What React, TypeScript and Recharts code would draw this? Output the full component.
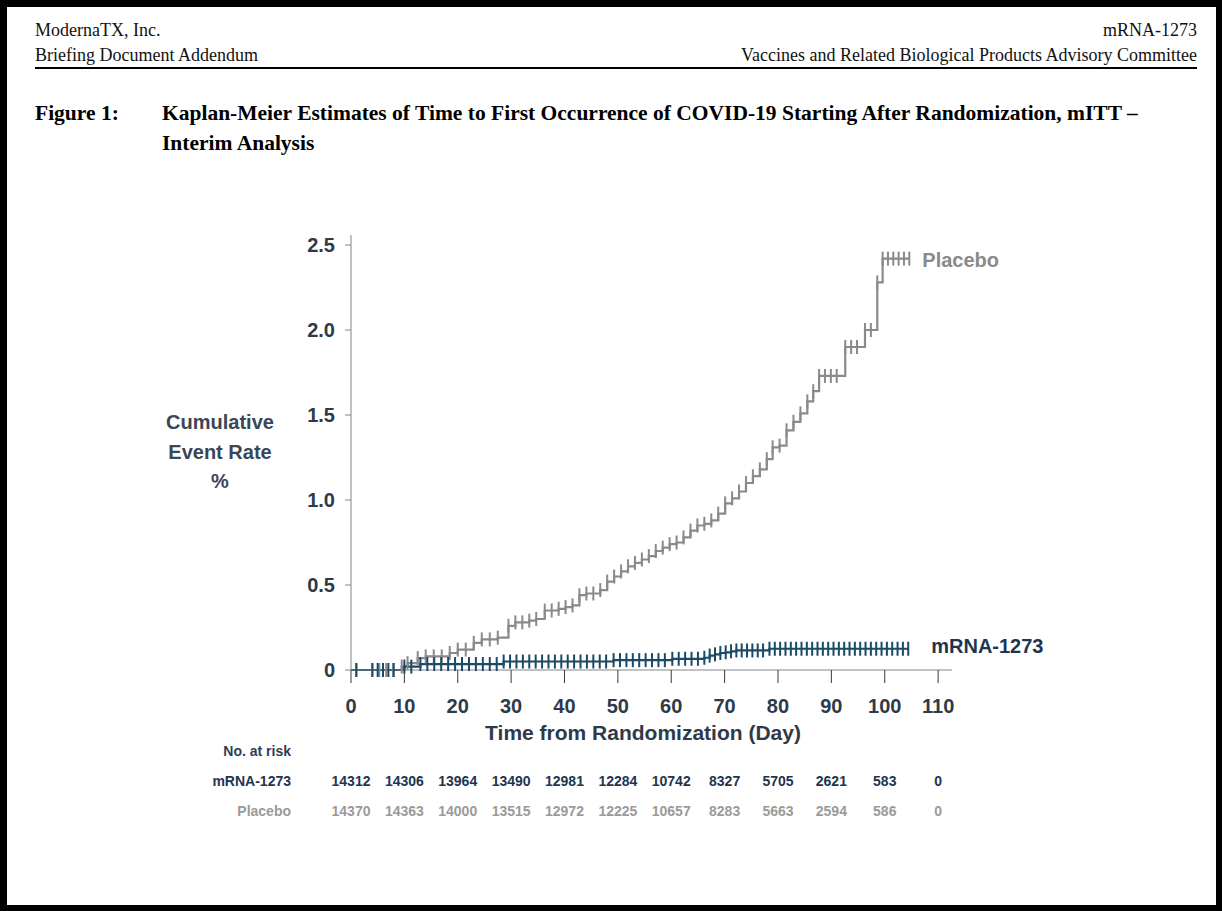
import React from 'react'
import { LineChart, Line, XAxis, YAxis } from 'recharts'

// Kaplan-Meier step points [day, cumulative event rate %]; every point after the first carries a censor mark
const placeboCurve: [number, number][] = [
  [0, 0], [1, 0], [4, 0], [5.3, 0], [6.6, 0], [7.9, 0],
  [9.5, 0.02], [10.6, 0.04], [12.5, 0.07], [14, 0.08], [15.5, 0.08], [17, 0.08], [18.5, 0.1], [20, 0.12], [21.5, 0.12], [23, 0.16],
  [24.5, 0.18], [26, 0.18], [27.5, 0.19], [29.5, 0.26], [30.8, 0.28], [32.1, 0.28], [33.4, 0.29], [34.7, 0.3], [36.3, 0.35], [37.6, 0.35],
  [38.9, 0.36], [40.2, 0.37], [41.5, 0.38], [42.8, 0.44], [44.1, 0.45], [45.4, 0.45], [46.7, 0.47], [48, 0.52], [49.3, 0.55], [50.6, 0.58],
  [51.9, 0.61], [53.2, 0.63], [54.5, 0.65], [55.8, 0.67], [57.1, 0.7], [58.4, 0.72], [59.7, 0.74], [61, 0.75], [62.3, 0.78], [63.6, 0.82],
  [64.9, 0.85], [66.2, 0.86], [67.5, 0.88], [68.8, 0.92], [70.1, 0.98], [71.4, 1.01], [72.7, 1.05], [74, 1.1], [75.3, 1.14], [76.6, 1.18],
  [77.9, 1.24], [79, 1.31], [80.3, 1.32], [81.6, 1.41], [82.9, 1.46], [84.2, 1.51], [85.5, 1.58], [86.6, 1.64], [87.7, 1.73], [88.8, 1.73],
  [89.9, 1.73], [91, 1.73], [92.6, 1.9], [93.7, 1.9], [94.8, 1.9], [96.3, 2.0], [97.4, 2.0], [98.6, 2.28], [99.6, 2.42], [100.6, 2.42],
  [101.6, 2.42], [102.6, 2.42], [103.6, 2.42], [104.6, 2.42],
]

const mrnaCurve: [number, number][] = [
  [0, 0], [1, 0], [4, 0], [5, 0], [6, 0], [7, 0], [8, 0],
  [10, 0.02], [11.3, 0.02], [13, 0.035], [14.3, 0.035], [15.6, 0.035], [16.9, 0.035], [18.2, 0.035], [19.5, 0.035], [20.8, 0.035],
  [22.1, 0.035], [23.4, 0.035], [24.7, 0.035], [26, 0.035], [27.3, 0.035],
  [28.6, 0.05], [29.8, 0.05], [31, 0.05], [32.2, 0.05], [33.4, 0.05], [34.6, 0.05], [35.8, 0.05], [37, 0.05], [38.2, 0.05], [39.4, 0.05],
  [40.6, 0.05], [41.8, 0.05], [43, 0.05], [44.2, 0.05], [45.4, 0.05], [46.6, 0.05], [47.8, 0.05],
  [49.2, 0.058], [50.4, 0.058], [51.6, 0.058], [52.8, 0.058], [54, 0.058], [55.2, 0.058], [56.4, 0.058], [57.6, 0.058], [58.8, 0.058],
  [60.2, 0.066], [61.4, 0.066], [62.6, 0.066], [63.8, 0.066], [65, 0.066],
  [66.2, 0.072], [67.2, 0.085], [68.2, 0.092], [69.2, 0.1], [70.2, 0.104], [71.2, 0.11], [72.2, 0.115], [73.2, 0.115], [74.2, 0.115],
  [75.2, 0.115], [76.2, 0.115], [77.2, 0.115],
  [78.4, 0.125], [79.4, 0.125], [80.4, 0.125], [81.4, 0.125], [82.4, 0.125], [83.4, 0.125], [84.4, 0.125], [85.4, 0.125], [86.4, 0.125],
  [87.4, 0.125], [88.4, 0.125], [89.4, 0.125], [90.4, 0.125], [91.4, 0.125], [92.4, 0.125], [93.4, 0.125], [94.4, 0.125], [95.4, 0.125],
  [96.4, 0.125], [97.4, 0.125], [98.4, 0.125], [99.4, 0.125], [100.4, 0.125], [101.4, 0.125], [102.4, 0.125], [103.4, 0.125], [104.4, 0.125],
]

const xTicks = [0, 10, 20, 30, 40, 50, 60, 70, 80, 90, 100, 110]
const yTicks = [0, 0.5, 1.0, 1.5, 2.0, 2.5]
const atRiskMrna = [14312, 14306, 13964, 13490, 12981, 12284, 10742, 8327, 5705, 2621, 583, 0]
const atRiskPlacebo = [14370, 14363, 14000, 13515, 12972, 12225, 10657, 8283, 5663, 2594, 586, 0]

const placeboData = placeboCurve.map(([day, rate]) => ({ day, rate }))
const mrnaData = mrnaCurve.map(([day, rate]) => ({ day, rate }))

const SANS = "'Liberation Sans', Arial, sans-serif"
const SERIF = "'Liberation Serif', 'Times New Roman', serif"
const INK = '#2e3a48'
const PLACEBO = '#8a8a8a'
const MRNA = '#1b4a66'
const MRNA_TEXT = '#1e3552'

const censorDot = (color: string, name: string, nameColor: string, dx: number, dy: number, lastIndex: number) =>
  (props: any) => {
    const { cx, cy, index } = props
    if (index === 0 || cx == null) return <g key={`d${index}`} />
    return (
      <g key={`d${index}`}>
        <line x1={cx} x2={cx} y1={cy - 7} y2={cy + 7} stroke={color} strokeWidth={2} />
        {index === lastIndex && (
          <text x={cx + dx} y={cy + dy} dominantBaseline="central" fill={nameColor}
            fontFamily={SANS} fontWeight="bold" fontSize={20}>
            {name}
          </text>
        )}
      </g>
    )
  }

const XTick = (props: any) => {
  const { x, y, payload, index } = props
  const base = { textAnchor: 'middle' as const, dominantBaseline: 'central' as const, fontFamily: SANS, fontWeight: 'bold' }
  return (
    <g>
      <text x={x} y={y + 23} fill={INK} fontSize={20} {...base}>{payload.value}</text>
      <text x={x} y={y + 98} fill={MRNA_TEXT} fontSize={14} {...base}>{atRiskMrna[index]}</text>
      <text x={x} y={y + 128} fill="#9a9a9a" fontSize={14} {...base}>{atRiskPlacebo[index]}</text>
    </g>
  )
}

const abs = (left: number, top: number, style: React.CSSProperties = {}): React.CSSProperties => ({
  position: 'absolute', left, top, whiteSpace: 'nowrap', ...style,
})
const absRight = (right: number, top: number, style: React.CSSProperties = {}): React.CSSProperties => ({
  position: 'absolute', right, top, whiteSpace: 'nowrap', ...style,
})

const header: React.CSSProperties = { fontFamily: SERIF, fontSize: 18, lineHeight: '20px', color: '#111' }
const riskLabel: React.CSSProperties = { fontFamily: SANS, fontSize: 14, fontWeight: 'bold', lineHeight: '18px' }

export default function App() {
  return (
    <div style={{ position: 'relative', width: 1222, height: 911, background: '#000' }}>
      <style>{'body{margin:0;background:#000}'}</style>
      <div style={{ position: 'absolute', left: 7, top: 7, width: 1209, height: 898, background: '#fff' }} />

      <div style={abs(35, 20, header)}>ModernaTX, Inc.</div>
      <div style={abs(35, 45, header)}>Briefing Document Addendum</div>
      <div style={absRight(25, 20, header)}>mRNA-1273</div>
      <div style={absRight(25, 45, header)}>Vaccines and Related Biological Products Advisory Committee</div>
      <div style={abs(35, 67, { width: 1162, height: 2, background: '#000' })} />

      <div style={abs(35, 98, { fontFamily: SERIF, fontSize: 21.5, fontWeight: 'bold', lineHeight: '30px', color: '#000' })}>Figure 1:</div>
      <div style={abs(162, 98, { fontFamily: SERIF, fontSize: 21.5, fontWeight: 'bold', lineHeight: '30px', color: '#000' })}>
        Kaplan-Meier Estimates of Time to First Occurrence of COVID-19 Starting After Randomization, mITT –<br />
        Interim Analysis
      </div>

      <div style={{ position: 'absolute', left: 0, top: 0 }}>
        <LineChart width={1222} height={911} margin={{ top: 235, right: 270, bottom: 211, left: 291 }}>
          <XAxis type="number" dataKey="day" domain={[0, 112.6]} ticks={xTicks} interval={0}
            stroke="#858585" tickSize={13} tickMargin={0} height={30}
            tickLine={{ stroke: '#3a3a3a' }} tick={<XTick />} />
          <YAxis type="number" dataKey="rate" domain={[0, 2.559]} ticks={yTicks} interval={0}
            width={60} stroke="#858585" tickSize={6} tickMargin={10}
            tickFormatter={(v: number) => (v === 0 ? '0' : v.toFixed(1))}
            tick={{ fill: INK, fontSize: 20, fontWeight: 'bold', fontFamily: SANS }} />
          <Line data={placeboData} dataKey="rate" type="stepAfter" stroke={PLACEBO} strokeWidth={2.2}
            isAnimationActive={false}
            dot={censorDot(PLACEBO, 'Placebo', PLACEBO, 13, 1, placeboData.length - 1)} activeDot={false} />
          <Line data={mrnaData} dataKey="rate" type="stepAfter" stroke={MRNA} strokeWidth={2.2}
            isAnimationActive={false}
            dot={censorDot(MRNA, 'mRNA-1273', MRNA_TEXT, 23, -3, mrnaData.length - 1)} activeDot={false} />
        </LineChart>
      </div>

      <div style={abs(120, 408, { width: 200, textAlign: 'center', fontFamily: SANS, fontSize: 20, fontWeight: 'bold', lineHeight: '29.5px', color: '#3a4654' })}>
        Cumulative<br />Event Rate<br />%
      </div>
      <div style={abs(443, 720, { width: 400, textAlign: 'center', fontFamily: SANS, fontSize: 21, fontWeight: 'bold', lineHeight: '26px', color: INK })}>
        Time from Randomization (Day)
      </div>
      <div style={absRight(1222 - 291, 742, { ...riskLabel, color: '#2e3e55' })}>No. at risk</div>
      <div style={absRight(1222 - 291, 772, { ...riskLabel, color: MRNA_TEXT })}>mRNA-1273</div>
      <div style={absRight(1222 - 291, 802, { ...riskLabel, color: '#9a9a9a' })}>Placebo</div>
    </div>
  )
}
